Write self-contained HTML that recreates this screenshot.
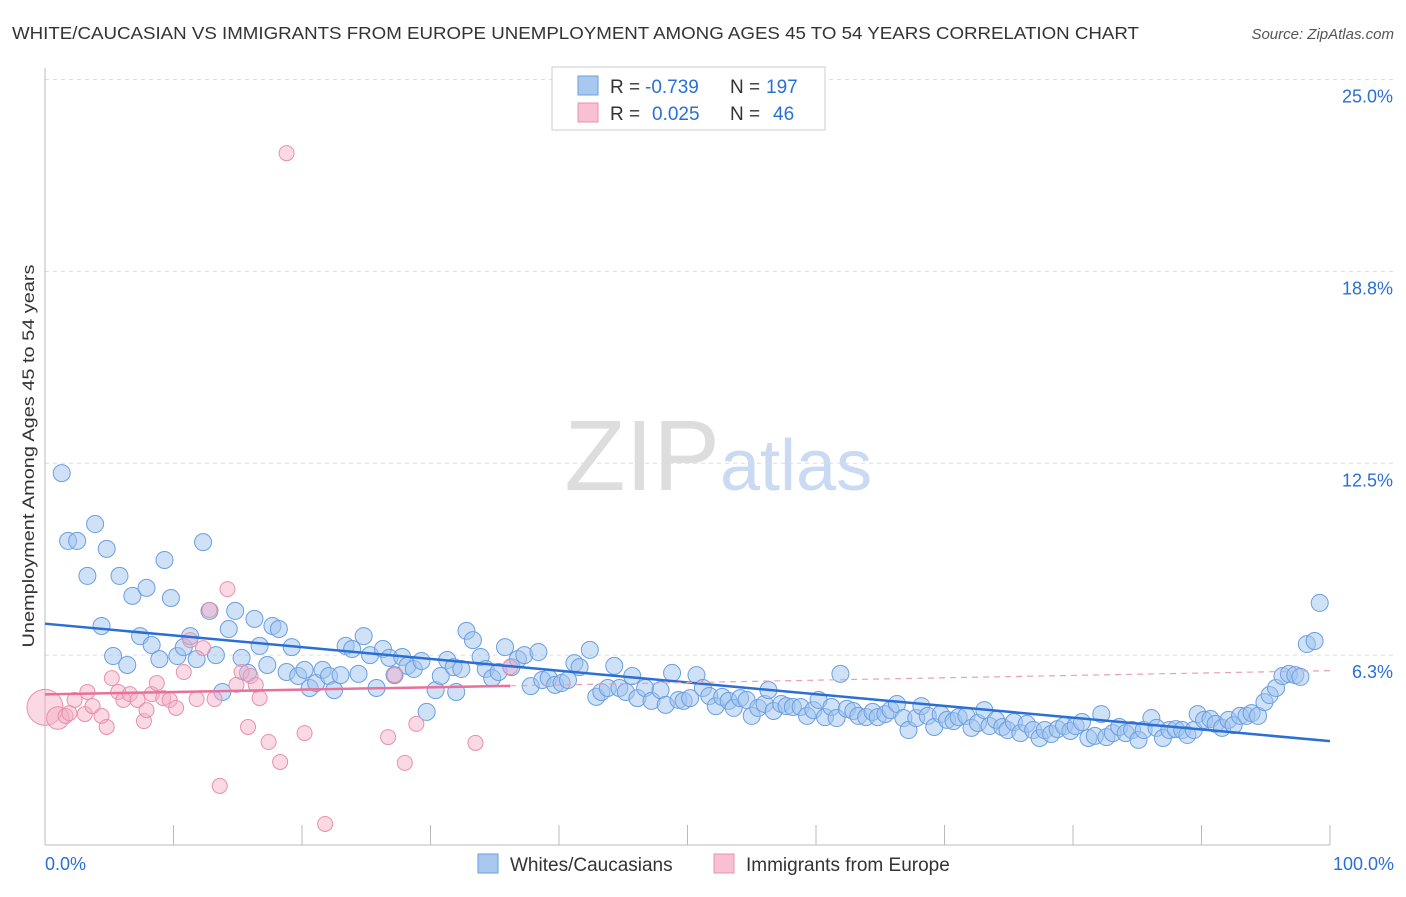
<!DOCTYPE html>
<html><head><meta charset="utf-8"><style>
body{margin:0;background:#fff;font-family:"Liberation Sans",sans-serif;}
svg text{font-family:"Liberation Sans",sans-serif;}
</style></head><body>
<svg id="chart" width="1406" height="892">
<text x="12" y="39" font-size="17.5" fill="#333" textLength="1127" lengthAdjust="spacingAndGlyphs">WHITE/CAUCASIAN VS IMMIGRANTS FROM EUROPE UNEMPLOYMENT AMONG AGES 45 TO 54 YEARS CORRELATION CHART</text>
<text x="1394" y="39" font-size="15" fill="#555" text-anchor="end" font-style="italic">Source: ZipAtlas.com</text>
<text x="720" y="490" font-size="100" fill="#ddd" text-anchor="end" font-family="Liberation Serif">ZIP</text>
<text x="720" y="490" font-size="72" fill="#c9daf2">atlas</text>
<g id="grid"></g><g id="axes"></g><g id="pts"></g><g id="trend"></g>
<g>
<rect x="552" y="67" width="273" height="63" fill="#fff" stroke="#ccc"/>
<rect x="578" y="76" width="20" height="19" fill="#a8c8f0" stroke="#6a9fe0"/>
<text y="93" font-size="19" fill="#333"><tspan x="610">R =</tspan><tspan x="645" fill="#2a6fd6">-0.739</tspan><tspan x="730">N =</tspan><tspan x="766" fill="#2a6fd6">197</tspan></text>
<rect x="578" y="103" width="20" height="19" fill="#f8c0d2" stroke="#e890aa"/>
<text y="120" font-size="19" fill="#333"><tspan x="610">R =</tspan><tspan x="652" fill="#2a6fd6">0.025</tspan><tspan x="730">N =</tspan><tspan x="773" fill="#2a6fd6">46</tspan></text>
</g>
<g>
<rect x="478" y="854" width="20" height="19" fill="#a8c8f0" stroke="#6a9fe0"/>
<text x="510" y="871" font-size="19" fill="#333">Whites/Caucasians</text>
<rect x="714" y="854" width="20" height="19" fill="#f8c0d2" stroke="#e890aa"/>
<text x="746" y="871" font-size="19" fill="#333">Immigrants from Europe</text>
</g>
<text x="34" y="456" font-size="17" fill="#333" text-anchor="middle" textLength="383" lengthAdjust="spacingAndGlyphs" transform="rotate(-90 34 456)">Unemployment Among Ages 45 to 54 years</text>
<text x="45" y="870" font-size="18" fill="#2a6fd6">0.0%</text>
<text x="1394" y="870" font-size="18" fill="#2a6fd6" text-anchor="end">100.0%</text>
</svg>
<script>
const yTicks=[25,18.75,12.5,6.25];
const yTickLabels=["25.0%","18.8%","12.5%","6.3%"];
const xTicks=[0,10,20,30,40,50,60,70,80,90,100];
const blueX=[1.3,1.8,2.5,3.9,3.3,4.8,5.8,4.4,5.3,6.4,6.8,7.4,7.9,8.3,8.9,9.3,9.8,10.3,10.8,11.3,11.8,12.3,12.8,13.3,13.8,14.3,14.8,15.3,15.8,16.3,16.7,17.3,17.7,18.2,18.8,19.2,19.7,20.2,20.6,21.1,21.6,22.1,22.5,23.0,23.4,23.9,24.4,24.8,25.3,25.8,26.3,26.8,27.2,27.8,28.2,28.7,29.3,29.7,30.4,30.8,31.3,31.8,32.0,32.4,32.8,33.3,33.9,34.3,34.8,35.3,35.8,36.3,36.8,37.3,37.8,38.4,38.7,39.2,39.7,40.2,40.7,41.2,41.6,42.4,42.9,43.3,43.8,44.3,44.7,45.2,45.7,46.1,46.7,47.2,47.9,48.3,48.8,49.3,49.7,50.2,50.7,51.2,51.7,52.2,52.7,53.2,53.6,54.1,54.6,55.0,55.5,56.0,56.3,56.7,57.3,57.7,58.2,58.8,59.3,59.8,60.2,60.7,61.2,61.6,61.9,62.4,62.9,63.3,63.9,64.4,64.8,65.4,65.8,66.3,66.8,67.2,67.8,68.2,68.7,69.2,69.7,70.2,70.7,71.1,71.7,72.1,72.6,73.1,73.5,74.0,74.5,74.9,75.4,75.9,76.4,76.9,77.4,77.8,78.3,78.8,79.3,79.8,80.2,80.7,81.2,81.7,82.2,82.6,83.1,83.6,84.1,84.6,85.1,85.5,86.1,86.5,87.0,87.5,88.0,88.5,88.9,89.4,89.7,90.2,90.7,91.1,91.6,92.1,92.5,93.0,93.5,93.9,94.4,94.9,95.3,95.8,96.3,96.8,97.3,97.7,98.2,98.8,99.2];
const blueY=[12.18,9.97,9.97,10.52,8.83,9.71,8.83,7.20,6.22,5.93,8.18,6.87,8.44,6.58,6.12,9.35,8.11,6.22,6.51,6.87,6.12,9.93,7.69,6.25,5.05,7.10,7.69,6.16,5.67,7.43,6.55,5.93,7.20,7.10,5.70,6.51,5.57,5.77,5.18,5.34,5.77,5.57,5.11,5.60,6.55,6.45,5.64,6.87,6.25,5.18,6.45,6.16,5.60,6.19,5.90,5.80,6.06,4.40,5.11,5.57,6.09,5.86,5.05,5.80,7.04,6.74,6.19,5.80,5.50,5.70,6.51,5.86,6.12,6.25,5.24,6.35,5.44,5.50,5.28,5.34,5.44,5.99,5.86,6.42,4.89,5.05,5.18,5.90,5.18,5.05,5.57,4.85,5.18,4.76,5.11,4.63,5.67,4.79,4.76,4.85,5.60,5.18,4.92,4.59,4.89,4.76,4.53,4.85,4.79,4.27,4.53,4.66,5.11,4.43,4.66,4.59,4.56,4.56,4.27,4.46,4.79,4.23,4.56,4.20,5.64,4.50,4.43,4.27,4.23,4.40,4.23,4.33,4.46,4.66,4.20,3.81,4.20,4.59,4.27,3.91,4.33,4.14,4.10,4.23,4.27,3.88,4.04,4.46,3.94,4.14,3.91,3.81,4.07,3.71,4.01,3.81,3.55,3.81,3.68,3.84,3.94,3.78,3.94,4.07,3.55,3.62,4.33,3.58,3.71,3.91,3.71,3.81,3.49,3.81,4.20,3.88,3.55,3.81,3.84,3.81,3.65,3.81,4.33,4.14,4.17,4.01,3.88,4.14,3.97,4.27,4.27,4.36,4.27,4.72,4.95,5.18,5.57,5.64,5.60,5.54,6.61,6.71,7.95];
const pinkX=[0,1.0,1.6,2.3,1.9,3.1,3.3,3.7,4.4,4.8,5.2,5.7,6.1,6.6,7.2,7.7,7.9,8.3,8.7,9.2,9.7,10.2,10.8,11.3,11.8,12.3,12.8,13.2,13.6,14.2,14.9,15.3,15.8,16.0,16.4,16.7,17.4,18.3,18.8,20.2,21.8,26.7,27.2,28.0,28.9,33.5,36.2];
const pinkY=[4.55,4.20,4.27,4.79,4.36,4.33,5.05,4.59,4.27,3.91,5.50,5.05,4.79,4.98,4.79,4.10,4.46,4.98,5.34,4.85,4.79,4.53,5.70,6.74,4.82,6.48,7.72,4.82,1.99,8.40,5.28,5.70,3.91,5.57,5.28,4.85,3.42,2.77,22.6,3.71,0.75,3.58,5.60,2.74,4.01,3.39,5.86];
const pinkWeight=[2.4,1.5,1,1,1,1,1,1,1,1,1,1,1,1,1,1,1,1,1,1,1,1,1,1,1,1,1,1,1,1,1,1,1,1,1,1,1,1,1,1,1,1,1,1,1,1,1];

const NS="http://www.w3.org/2000/svg";
const X0=45,X1=1330,Y0=847,YS=30.7;
const sx=v=>X0+(X1-X0)*v/100;
const sy=v=>Y0-v*YS;
function mk(tag,attrs,parent){const e=document.createElementNS(NS,tag);for(const k in attrs)e.setAttribute(k,attrs[k]);parent.appendChild(e);return e;}
const grid=document.getElementById('grid'),axes=document.getElementById('axes'),pts=document.getElementById('pts'),trend=document.getElementById('trend');
yTicks.forEach((t,i)=>{
 const l=mk('line',{x1:X0,x2:1394,y1:sy(t),y2:sy(t),stroke:'#ddd','stroke-dasharray':'4,4'},grid);
 
 
 const tx=mk('text',{x:1393,y:sy(t)+23,'font-size':18,fill:'#2a6fd6','text-anchor':'end'},grid);
 tx.textContent=yTickLabels[i];
 
 
});
const ya=mk('line',{x1:X0,x2:X0,y1:68,y2:845,stroke:'#bbb'},axes);


const xa=mk('line',{x1:X0,x2:X1,y1:845,y2:845,stroke:'#bbb'},axes);


xTicks.forEach(t=>{
 const l=mk('line',{x1:sx(t),x2:sx(t),y1:825,y2:845,stroke:'#bbb'},axes);
 
 
});
blueX.forEach((x,i)=>{
 const c=mk('circle',{cx:sx(x),cy:sy(blueY[i]),r:8.5,fill:'rgba(160,196,240,0.5)',stroke:'#6a9fe0','stroke-width':1},pts);
 
 
});
pinkX.forEach((x,i)=>{
 const c=mk('circle',{cx:sx(x),cy:sy(pinkY[i]),r:7.5*pinkWeight[i],fill:'rgba(245,170,195,0.45)',stroke:'#e890aa','stroke-width':1},pts);
 
 
});
function fit(xs,ys){const n=xs.length;let mx=0,my=0;for(let i=0;i<n;i++){mx+=xs[i];my+=ys[i];}mx/=n;my/=n;let sxy=0,sxx=0;for(let i=0;i<n;i++){sxy+=(xs[i]-mx)*(ys[i]-my);sxx+=(xs[i]-mx)**2;}const b=sxy/sxx;return [my-b*mx,b];}
const bf=fit(blueX,blueY);
const bl=mk('line',{x1:sx(0),y1:sy(bf[0]),x2:sx(100),y2:sy(bf[0]+100*bf[1]),stroke:'#2a6fd6','stroke-width':2.5},trend);


const pf=fit(pinkX,pinkY);
const pmax=Math.max(...pinkX);
const pl=mk('line',{x1:sx(0),y1:sy(pf[0]),x2:sx(pmax),y2:sy(pf[0]+pmax*pf[1]),stroke:'#e8709a','stroke-width':2.5},trend);


const pd=mk('line',{x1:sx(pmax),y1:sy(pf[0]+pmax*pf[1]),x2:sx(100),y2:sy(pf[0]+100*pf[1]),stroke:'#e8a0b8','stroke-width':1.2,'stroke-dasharray':'6,5'},trend);


</script>
</body></html>
